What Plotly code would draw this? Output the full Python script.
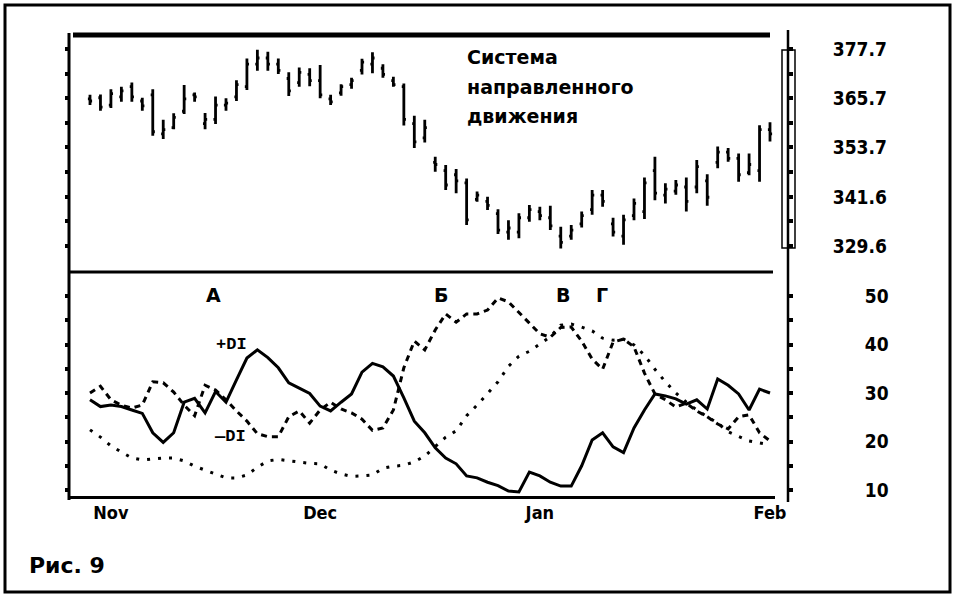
import plotly.graph_objects as go

# ---------------- data ----------------
day_index = list(range(66))

price_high = [366.5, 366.6, 367.9, 368.5, 369.5, 365.8, 367.9, 360.4, 362.0, 368.9,
              367.1, 362.1, 366.1, 365.7, 370.1, 375.4, 377.5, 377.0, 375.4, 372.0,
              373.2, 373.0, 373.8, 366.5, 369.1, 370.7, 375.3, 376.9, 374.0, 370.9,
              369.3, 361.4, 360.4, 351.4, 349.4, 348.4, 346.1, 342.9, 341.6, 338.6,
              335.9, 337.6, 339.6, 339.2, 339.4, 334.3, 334.7, 338.0, 343.3, 343.3,
              336.5, 337.2, 341.2, 346.3, 351.4, 344.9, 345.7, 346.3, 350.6, 347.1,
              353.9, 353.5, 352.2, 352.2, 359.1, 359.8]
price_low = [364.0, 362.6, 363.3, 364.8, 364.8, 362.6, 356.5, 355.7, 358.1, 361.8,
             364.8, 358.1, 359.4, 362.6, 365.0, 367.7, 372.4, 372.4, 371.6, 366.2,
             368.5, 368.6, 365.7, 364.0, 366.3, 368.0, 371.5, 371.8, 370.7, 368.5,
             359.0, 353.5, 354.9, 347.7, 343.3, 342.5, 334.7, 340.4, 338.4, 332.5,
             331.1, 331.5, 335.5, 335.9, 333.5, 329.0, 331.1, 334.1, 337.2, 339.2,
             331.9, 329.9, 335.9, 336.2, 340.8, 340.0, 342.1, 338.0, 342.5, 339.4,
             348.6, 350.2, 345.3, 346.9, 345.3, 355.1]
price_open = [365.5, 365.8, 364.0, 366.0, 368.5, 365.0, 366.5, 357.0, 358.5, 362.5,
              366.5, 359.5, 360.5, 364.0, 366.0, 368.5, 374.0, 375.5, 374.0, 370.5,
              369.5, 371.5, 370.0, 365.5, 367.0, 369.0, 372.5, 374.0, 373.0, 370.0,
              368.5, 359.5, 356.0, 350.0, 348.0, 347.0, 345.0, 341.0, 340.5, 337.5,
              333.0, 333.0, 336.5, 338.0, 336.5, 332.0, 332.0, 335.0, 338.5, 342.0,
              335.0, 332.0, 337.0, 338.0, 348.0, 342.0, 343.0, 344.0, 344.0, 345.5,
              350.0, 352.5, 351.0, 347.5, 348.0, 358.0]
price_close = [365.0, 363.5, 366.8, 367.5, 366.0, 363.8, 357.5, 358.0, 361.0, 365.5,
               366.0, 360.5, 364.0, 364.5, 369.0, 374.0, 375.5, 374.0, 372.5, 367.5,
               372.0, 370.0, 366.5, 364.8, 368.5, 370.0, 374.5, 375.5, 371.5, 369.0,
               360.5, 355.0, 358.5, 349.5, 344.5, 345.5, 336.0, 342.0, 339.5, 333.5,
               334.0, 336.5, 338.5, 337.0, 334.5, 330.5, 333.5, 337.0, 342.0, 340.5,
               333.0, 336.0, 340.0, 345.0, 342.5, 343.5, 344.5, 340.5, 349.0, 341.5,
               352.5, 351.0, 347.0, 349.5, 358.0, 357.0]

plus_di = [28.6, 27.2, 27.5, 27.2, 26.5, 25.8, 21.8, 19.8, 21.8, 28.1,
           28.9, 25.9, 30.3, 28.1, 32.7, 37.2, 38.9, 37.3, 35.2, 32.1,
           31.0, 29.9, 27.3, 26.3, 28.1, 29.8, 34.3, 36.1, 35.4, 33.5,
           29.0, 24.2, 21.8, 18.7, 16.6, 15.4, 12.9, 12.5, 11.6, 10.9,
           9.8, 9.6, 13.7, 12.9, 11.6, 10.8, 10.8, 15.0, 20.3, 21.8,
           18.9, 17.7, 22.8, 26.5, 29.8, 29.4, 28.8, 27.7, 28.6, 26.7,
           32.9, 31.6, 29.8, 26.5, 30.8, 30.0]
minus_di = [30.0, 31.4, 28.6, 27.5, 26.9, 27.5, 32.3, 32.1, 30.2, 27.5,
            25.3, 31.6, 30.6, 28.6, 26.3, 24.2, 21.6, 21.0, 21.0, 25.1,
            26.3, 23.8, 26.5, 28.1, 26.7, 25.9, 24.6, 22.3, 22.8, 26.5,
            35.2, 40.7, 38.9, 43.0, 46.3, 44.6, 46.3, 46.3, 47.1, 49.6,
            48.8, 46.7, 44.4, 42.2, 41.5, 43.5, 43.6, 40.7, 37.0, 34.9,
            40.5, 41.1, 39.5, 34.1, 29.8, 28.6, 27.1, 27.9, 26.3, 25.1,
            23.6, 22.6, 25.1, 25.5, 21.8, 20.1]
adx = [22.4, 20.9, 19.1, 17.8, 16.6, 16.2, 16.4, 16.6, 16.6, 16.0,
       14.9, 14.1, 13.3, 12.5, 12.5, 13.1, 14.7, 16.0, 16.3, 16.0,
       15.7, 15.5, 15.4, 14.1, 13.3, 12.8, 12.9, 13.1, 14.5, 14.9,
       15.1, 15.8, 17.0, 18.9, 20.9, 22.2, 25.3, 27.5, 29.8, 32.3,
       35.5, 37.6, 38.6, 40.1, 41.6, 44.0, 44.2, 43.6, 42.8, 41.3,
       40.9, 41.1, 39.9, 37.8, 34.9, 32.3, 30.0, 28.1, 26.5, 25.1,
       23.8, 22.0, 21.1, 20.1, 19.7, 19.3]

month_pos = [2, 22, 43, 65]
month_labels = ["Nov", "Dec", "Jan", "Feb"]
price_tick_vals = [329.6, 341.6, 353.7, 365.7, 377.7]
price_tick_text = ["329.6", "341.6", "353.7", "365.7", "377.7"]
price_minor_vals = [335.6, 347.65, 359.7, 371.7]
di_tick_vals = [10, 20, 30, 40, 50]
di_tick_text = ["10", "20", "30", "40", "50"]
di_minor_vals = [15, 25, 35, 45, 55]

# ---------------- layout geometry (pixels) ----------------
W, H = 955, 596
PL, PR, PT, PB = 70, 788, 35, 498
SEP = 272


def fx(px):
    return (px - PL) / (PR - PL)


def fy(py):
    return (PB - py) / (PB - PT)


step = 680 / 65.0
x_range = [(PL - 90) / step, (PR - 90) / step]
kp = (246 - 49) / (377.7 - 329.6)
price_range = [377.7 - (SEP - 49) / kp, 377.7 + (49 - PT) / kp]
kd = (490 - 296) / 40.0
di_range = [50 - (PB - 296) / kd, 50 + (296 - SEP) / kd]

LABEL_FONT = dict(family="Liberation Sans Narrow, DejaVu Sans Condensed, Arial Narrow, sans-serif",
                  size=19, color="black", weight="bold")
TEXT_FONT = dict(family="DejaVu Sans, Liberation Sans, sans-serif", size=19, color="black",
                 weight="bold")

fig = go.Figure()
fig.add_trace(go.Ohlc(
    x=day_index, open=price_open, high=price_high, low=price_low, close=price_close,
    xaxis="x", yaxis="y",
    increasing=dict(line=dict(color="black", width=2.8)),
    decreasing=dict(line=dict(color="black", width=2.8)),
    tickwidth=0.2, showlegend=False, hoverinfo="skip"))
fig.add_trace(go.Scatter(x=day_index, y=adx, xaxis="x", yaxis="y2", mode="lines",
                         line=dict(color="black", width=3, dash="3px,8px"),
                         showlegend=False, hoverinfo="skip"))
fig.add_trace(go.Scatter(x=day_index, y=minus_di, xaxis="x", yaxis="y2", mode="lines",
                         line=dict(color="black", width=3, dash="6px,5px"),
                         showlegend=False, hoverinfo="skip"))
fig.add_trace(go.Scatter(x=day_index, y=plus_di, xaxis="x", yaxis="y2", mode="lines",
                         line=dict(color="black", width=3),
                         showlegend=False, hoverinfo="skip"))
# invisible companions so the right-hand label axes get drawn
fig.add_trace(go.Scatter(x=day_index[:1], y=price_high[:1], xaxis="x", yaxis="y3",
                         mode="markers", marker=dict(opacity=0), showlegend=False,
                         hoverinfo="skip"))
fig.add_trace(go.Scatter(x=day_index[:1], y=plus_di[:1], xaxis="x", yaxis="y4",
                         mode="markers", marker=dict(opacity=0), showlegend=False,
                         hoverinfo="skip"))

common = dict(showgrid=False, zeroline=False, showline=False, fixedrange=True)

fig.update_layout(
    width=W, height=H,
    margin=dict(l=PL, r=W - PR, t=PT, b=H - PB, pad=0),
    paper_bgcolor="white", plot_bgcolor="white",
    xaxis=dict(domain=[0, 1], anchor="y2", range=x_range, tickmode="array",
               tickvals=month_pos, ticktext=month_labels, ticks="",
               tickfont=dict(family=LABEL_FONT["family"], size=18, color="black", weight="bold"),
               ticklabelstandoff=2,
               rangeslider=dict(visible=False), **common),
    yaxis=dict(domain=[fy(SEP), 1], anchor="x", range=price_range, side="left",
               tickmode="array",
               tickvals=price_tick_vals + price_minor_vals, showticklabels=False,
               ticks="outside", ticklen=4, tickwidth=4, tickcolor="black", **common),
    yaxis2=dict(domain=[0, fy(SEP)], anchor="x", range=di_range, side="left",
                tickmode="array",
                tickvals=di_tick_vals + di_minor_vals, showticklabels=False,
                ticks="outside", ticklen=4, tickwidth=4, tickcolor="black", **common),
    yaxis3=dict(overlaying="y", anchor="x", side="right", range=price_range,
                tickmode="array", tickvals=price_tick_vals, ticktext=price_tick_text,
                ticks="outside", ticklen=4, tickwidth=4, tickcolor="black",
                minor=dict(tickvals=price_minor_vals, ticks="outside", ticklen=4,
                           tickwidth=4, tickcolor="black"),
                tickfont=LABEL_FONT, ticklabelstandoff=36, **common),
    yaxis4=dict(overlaying="y2", anchor="x", side="right", range=di_range,
                tickmode="array", tickvals=di_tick_vals, ticktext=di_tick_text,
                ticks="outside", ticklen=4, tickwidth=4, tickcolor="black",
                minor=dict(tickvals=di_minor_vals, ticks="outside", ticklen=4,
                           tickwidth=4, tickcolor="black"),
                tickfont=LABEL_FONT, ticklabelstandoff=68, **common),
)


def hline(y, x0, x1, w):
    return dict(type="line", xref="paper", yref="paper", x0=fx(x0), x1=fx(x1),
                y0=fy(y), y1=fy(y), line=dict(color="black", width=w))


def vline(x, y0, y1, w):
    return dict(type="line", xref="paper", yref="paper", x0=fx(x), x1=fx(x),
                y0=fy(y0), y1=fy(y1), line=dict(color="black", width=w))


shapes = [
    dict(type="rect", xref="paper", yref="paper", x0=fx(5), x1=fx(950), y0=fy(5), y1=fy(592),
         line=dict(color="black", width=3)),
    hline(35, 73, 770, 5),
    hline(272, 69, 773, 3),
    hline(497.5, 69, 775, 3),
    vline(69, 33, 500, 3),
    vline(788, 30, 502, 2.5),
    dict(type="rect", xref="paper", yref="paper", x0=fx(782), x1=fx(795), y0=fy(50), y1=fy(248),
         line=dict(color="black", width=1.5)),
]
fig.update_layout(shapes=shapes)


def note(text, x, y, font, xanchor="left"):
    return dict(text=text, xref="paper", yref="paper", x=fx(x), y=fy(y), xanchor=xanchor,
                yanchor="middle", showarrow=False, font=font)


annotations = [
    note("Система", 465, 57, TEXT_FONT),
    note("направленного", 465, 87, TEXT_FONT),
    note("движения", 465, 116, TEXT_FONT),
    note("А", 213, 295, TEXT_FONT, "center"),
    note("Б", 441, 295, TEXT_FONT, "center"),
    note("В", 563, 295, TEXT_FONT, "center"),
    note("Г", 602, 295, TEXT_FONT, "center"),
    note("+DI", 214, 344, dict(family="Liberation Mono, DejaVu Sans Mono, monospace", size=17,
                               color="black", weight="bold")),
    note("\u2014DI", 212, 436, dict(family="Liberation Mono, DejaVu Sans Mono, monospace", size=17,
                                     color="black", weight="bold")),
    note("Рис. 9", 27, 565, dict(family="DejaVu Sans, Liberation Sans, sans-serif", size=22,
                                 color="black", weight="bold")),
]
fig.update_layout(annotations=annotations)

fig.write_html("out.html", config={"displayModeBar": False},
               post_script="document.body.style.margin='0';document.body.style.overflow='hidden';")
